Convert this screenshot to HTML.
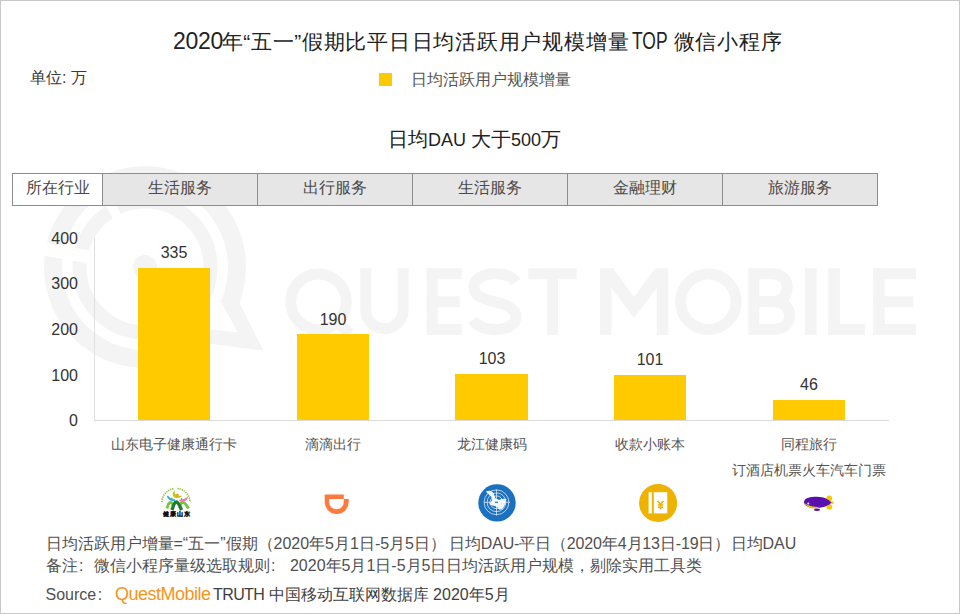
<!DOCTYPE html>
<html><head><meta charset="utf-8">
<style>
html,body{margin:0;padding:0;}
body{width:960px;height:614px;position:relative;overflow:hidden;background:#fff;font-family:"Liberation Sans",sans-serif;}
.frame{position:absolute;left:0;top:0;width:958px;height:612px;border:1px solid #c8c8c8;}
.t{position:absolute;white-space:nowrap;line-height:1;}
.title{top:30.5px;font-size:21px;color:#222;}
.unit{left:30px;top:70px;font-size:16px;color:#3a3a3a;}
.lgsq{position:absolute;left:379px;top:73px;width:13px;height:13px;background:#ffca00;}
.lgtx{left:411px;top:71.5px;font-size:16px;color:#555;}
.sub{left:388px;top:130px;font-size:18px;color:#222;}
.c20{font-size:19.5px;}
.tbl{position:absolute;left:12px;top:173px;height:33px;}
.cell{position:absolute;top:0;height:31px;border:1px solid #8c8c8c;background:#e6e6e6;font-size:16px;color:#4a4a4a;text-align:center;line-height:28px;box-sizing:content-box;}
.bar{position:absolute;background:#ffca00;width:72px;}
.ylab{position:absolute;right:882px;font-size:16px;color:#333;line-height:1;}
.vlab{position:absolute;font-size:16px;color:#333;line-height:1;width:100px;text-align:center;}
.xlab{position:absolute;font-size:14px;color:#555;line-height:1;width:200px;text-align:center;white-space:nowrap;}
.foot{position:absolute;left:45.5px;font-size:16px;color:#505050;white-space:nowrap;line-height:1;}
</style></head><body>
<!-- watermark -->
<svg style="position:absolute;left:0;top:0" width="960" height="614">
 <g id="wm">
  <circle cx="145" cy="267" r="101" fill="#f4f4f4"/>
  <polygon points="236,296 263.3,350.6 204,343 175,300" fill="#f4f4f4"/>
  <circle cx="145" cy="267" r="83" fill="#fff"/>
  <polygon points="221,302 238,332.6 207,329 175,300" fill="#fff"/>
  <circle cx="145" cy="267" r="65.5" fill="none" stroke="#f4f4f4" stroke-width="14"/>
  <circle cx="145" cy="267" r="12" fill="#f4f4f4"/>
  <rect x="-112" y="-6.5" width="70" height="13" fill="#fff" transform="translate(145,267) rotate(10)"/>
  <rect x="-80" y="-4.5" width="30" height="9" fill="#fff" transform="translate(145,267) rotate(61)"/>
 </g>
 <g fill="none" stroke="#f4f4f4" stroke-width="11">
  <circle cx="318.5" cy="301.7" r="27.8"/>
  <path d="M338,322 L350,334"/>
  <path d="M365.8,268.3 V310 A18.7,18.7 0 0 0 403.2,310 V268.3"/>
  <path d="M472,279 C467,272 477,273.8 494,273.8" stroke="none"/>
  <path d="M516,282 C512,276 504,273.8 494.5,273.8 C482,273.8 474,279.5 474,287.5 C474,296 483,299 495,301.8 C508,304.8 516,309 516,317 C516,325 507,329.5 494.5,329.5 C485,329.5 477,326 472.5,320"/>
  <path d="M858,329.5 Z" stroke="none"/>
  <circle cx="708.3" cy="301.7" r="27.8"/>
  <path d="M753.8,335 V273.8 H772 C782,273.8 787.2,279 787.2,287.5 C787.2,296 782,301.5 772,301.5 H753.8 M772,301.5 C784,301.5 789.5,307 789.5,315.5 C789.5,324 784,329.5 772,329.5 H753.8"/>
 </g>
 <g fill="#f4f4f4">
  <rect x="426.7" y="268.3" width="11" height="66.7"/>
  <rect x="426.7" y="268.3" width="35" height="11"/>
  <rect x="426.7" y="296.3" width="33" height="11"/>
  <rect x="426.7" y="324" width="35" height="11"/>
  <rect x="528.3" y="268.3" width="48.4" height="11"/>
  <rect x="547" y="268.3" width="11" height="66.7"/>
  <polygon points="600,335 600,268.3 613,268.3 634,297 655.3,268.3 668.3,268.3 668.3,335 656.8,335 656.8,288 634,318 611.5,288 611.5,335"/>
  <rect x="805" y="268.3" width="11.7" height="66.7"/>
  <rect x="828.3" y="268.3" width="11.5" height="66.7"/>
  <rect x="828.3" y="324" width="36.7" height="11"/>
  <rect x="873.3" y="268.3" width="11.5" height="66.7"/>
  <rect x="873.3" y="268.3" width="42.7" height="11"/>
  <rect x="873.3" y="296.3" width="40" height="11"/>
  <rect x="873.3" y="324" width="42.7" height="11"/>
 </g>
</svg>
<div class="frame"></div>
<div class="t title" style="left:173px;top:30px;font-size:23px;letter-spacing:-0.3px">2020</div>
<div class="t title" style="left:221.5px;letter-spacing:0.7px">年“五一”假期比平日</div>
<div class="t title" style="left:411.5px;letter-spacing:0.78px">日均活跃用户规模增量</div>
<div class="t title" style="left:631.5px;top:30px;font-size:23px;transform:scaleX(0.76);transform-origin:0 0;">TOP</div>
<div class="t title" style="left:673.5px;letter-spacing:0.78px">微信小程序</div>
<div class="t unit">单位: 万</div>
<div class="lgsq"></div>
<div class="t lgtx">日均活跃用户规模增量</div>
<div class="t sub"><span class="c20">日均</span>DAU <span class="c20">大于</span>500<span class="c20">万</span></div>

<div class="cell" style="left:12px;top:173px;width:89px;background:#fff;">所在行业</div>
<div class="cell" style="left:102px;top:173px;width:154px;">生活服务</div>
<div class="cell" style="left:257px;top:173px;width:154px;">出行服务</div>
<div class="cell" style="left:412px;top:173px;width:154px;">生活服务</div>
<div class="cell" style="left:567px;top:173px;width:154px;">金融理财</div>
<div class="cell" style="left:722px;top:173px;width:154px;">旅游服务</div>

<!-- axes -->
<div style="position:absolute;left:94px;top:238px;width:1px;height:182px;background:#e0e0e0;"></div>
<div style="position:absolute;left:94px;top:420px;width:795px;height:1px;background:#d9d9d9;"></div>
<div class="ylab" style="top:231px;">400</div>
<div class="ylab" style="top:276px;">300</div>
<div class="ylab" style="top:322px;">200</div>
<div class="ylab" style="top:368px;">100</div>
<div class="ylab" style="top:413px;">0</div>

<div class="bar" style="left:138px;top:268px;height:152px;"></div>
<div class="bar" style="left:297px;top:334px;height:86px;"></div>
<div class="bar" style="left:455px;top:374px;height:46px;width:73px;"></div>
<div class="bar" style="left:614px;top:375px;height:45px;"></div>
<div class="bar" style="left:773px;top:400px;height:20px;"></div>

<div class="vlab" style="left:124px;top:245px;">335</div>
<div class="vlab" style="left:283px;top:312px;">190</div>
<div class="vlab" style="left:442px;top:351px;">103</div>
<div class="vlab" style="left:600px;top:352px;">101</div>
<div class="vlab" style="left:759px;top:377px;">46</div>

<div class="xlab" style="left:74px;top:437px;">山东电子健康通行卡</div>
<div class="xlab" style="left:233px;top:437px;">滴滴出行</div>
<div class="xlab" style="left:392px;top:437px;">龙江健康码</div>
<div class="xlab" style="left:550px;top:437px;">收款小账本</div>
<div class="xlab" style="left:709px;top:437px;">同程旅行</div>
<div class="xlab" style="left:709px;top:463px;">订酒店机票火车汽车门票</div>

<!-- icons -->
<svg style="position:absolute;left:0;top:0" width="960" height="614">
 <!-- 健康山东 -->
 <g>
  <path d="M162,502 A14,14 0 0 1 174,488.5" fill="none" stroke="#8dc63f" stroke-width="1.6" stroke-dasharray="1.3,0.9"/>
  <path d="M177.5,488.5 A14,14 0 0 1 190,502" fill="none" stroke="#8dc63f" stroke-width="1.6" stroke-dasharray="1.3,0.9"/>
  <path d="M174,492 C172,496 175,499.5 181.5,496 C177,497.5 174.5,496 174,492 Z" fill="#9ccc2a" stroke="#b5cf1f" stroke-width="1.3"/>
  <circle cx="177.2" cy="495.2" r="1.6" fill="#f7a21b"/>
  <path d="M167.5,496 C168,499 171,501 175,500 C171,500 169,498.5 167.5,496 Z" fill="#29a9e1" stroke="#29a9e1" stroke-width="1.3"/>
  <path d="M187,498 C186,500.5 183,501.5 179.5,500.5 C183,500 185,499.5 187,498 Z" fill="#f07ab8" stroke="#f07ab8" stroke-width="1.3"/>
  <circle cx="171.8" cy="498.4" r="0.9" fill="#6dbb45"/>
  <circle cx="181.5" cy="499" r="0.9" fill="#6dbb45"/>
  <path d="M167,508.5 C168,504 169.5,502.5 170.5,502.5 C172,502.5 173,504.5 173.5,507" fill="none" stroke="#7cc242" stroke-width="2.8"/>
  <path d="M179.5,507 C180,504.5 181.5,502.5 183,502.5 C184.5,502.5 186.5,505 188.5,508.5" fill="none" stroke="#7cc242" stroke-width="2.8"/>
  <path d="M172,510 C173.5,505 175,502 176.3,502 C177.6,502 179.5,505 181.5,510" fill="none" stroke="#1f7a32" stroke-width="3.4"/>
  <text x="176.3" y="516.2" font-size="5.6" font-weight="bold" fill="#111" stroke="#111" stroke-width="0.25" text-anchor="middle" textLength="27.5" lengthAdjust="spacing">健康山东</text>
 </g>
 <!-- didi -->
 <path d="M324.7,494.5 H343.8 V498.9 H348.7 V502 A12,12 0 0 1 324.7,502 Z M329.1,498.9 V502 A7.35,7.35 0 0 0 343.8,502 V498.9 Z" fill="#fe7a3c" fill-rule="evenodd"/>
 <!-- longjiang -->
 <g>
  <circle cx="497" cy="502.9" r="18.7" fill="#1b70bf"/>
  <g fill="none" stroke="#fff" stroke-width="0.8" opacity="0.85">
   <circle cx="496.5" cy="502.3" r="12.4"/>
   <circle cx="496.5" cy="502.3" r="9.4"/>
   <circle cx="496.5" cy="502.3" r="6.4"/>
   <circle cx="496.5" cy="502.3" r="3"/>
   <path d="M484,502.3 H510 M496.5,489.5 V515.5"/>
  </g>
  <path d="M486,491.5 C488,490.5 491,490.5 493,492.5 C494.5,494.5 494.5,497 496,499 L498.5,500 C501,499 503.5,498.5 506.5,499 L505.5,502.5 C505,505 503.5,508 501.5,509.5 L499,509.5 C498,508 497.5,507 496,506.5 C493.5,506 491,505 489,504 L491,502 C492.5,500 492,497.5 490.5,496 C489,494.5 487,493 486,491.5 Z" fill="#fff" opacity="0.92"/>
  <rect x="495" y="501.7" width="3" height="1.2" fill="#1b70bf"/>
 </g>
 <!-- 收款小账本 -->
 <g>
  <circle cx="658.1" cy="503" r="19" fill="#eeb200"/>
  <rect x="648.6" y="492.2" width="3.2" height="21.2" fill="#fff"/>
  <rect x="653.8" y="492.2" width="13.5" height="21.2" fill="#fff"/>
  <path d="M657.6,501 L660.5,504.3 L663.4,501 M660.5,504.3 V509.5 M657.8,505 H663.2 M657.8,507.2 H663.2" fill="none" stroke="#eeb200" stroke-width="1.5"/>
 </g>
 <!-- tongcheng blimp -->
 <g>
  <circle cx="829.3" cy="498.3" r="2.9" fill="#f5c800"/>
  <circle cx="829.3" cy="506.8" r="2.9" fill="#f5c800"/>
  <path d="M826,501.8 L833.5,501.5 L833.5,504 L826,503.5 Z" fill="#f5c800"/>
  <path d="M804,502 C804,498 810,496.7 817,496.7 C824,496.7 829,499.5 831.5,502.5 C829,505.5 823,508 816,508 C810,508 804,506 804,502 Z" fill="#5a10b0"/>
  <path d="M804.2,503 C806,506.5 811,508.5 817,508.5 L819.5,507.3 C813,507 808,505.5 804.2,503 Z" fill="#f2c400"/>
  <ellipse cx="817" cy="509.8" rx="3" ry="1.3" fill="#5a10b0"/>
  <circle cx="808.3" cy="503.4" r="1" fill="#e6f0f0"/>
 </g>
</svg>
<div class="foot" style="top:536px;">日均活跃用户增量=“五一”假期（2020年5月1日-5月5日）</div>
<div class="foot" style="top:536px;left:449px;letter-spacing:-0.14px">日均DAU-平日（2020年4月13日-19日）</div>
<div class="foot" style="top:536px;left:730.5px;">日均DAU</div>
<div class="foot" style="top:558px;">备注<span style="display:inline-block;width:16px;text-indent:1.5px">:</span>微信小程序量级选取规则<span style="display:inline-block;width:16px;text-indent:1.5px">:</span> 2020年5月1日-5月5日日均活跃用户规模，剔除实用工具类</div>
<div class="foot" style="top:587px;color:#505050">Source<span style="display:inline-block;width:16px;text-indent:1.5px">:</span></div>
<div class="foot" style="top:585px;left:115px;color:#f7941d;font-size:18px;letter-spacing:-0.5px;">QuestMobile</div>
<div class="foot" style="top:587px;left:213px;color:#404040"><span style="letter-spacing:-0.6px">TRUTH</span> 中国移动互联网数据库 2020年5月</div>
</body></html>
